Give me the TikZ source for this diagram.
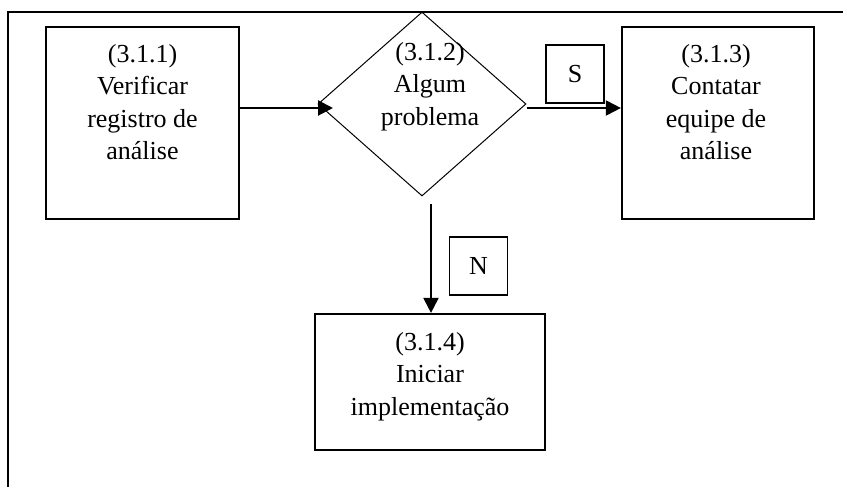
\documentclass[tikz,border=0pt]{standalone}
\usepackage{fontspec}
\setmainfont{Liberation Serif}
\usetikzlibrary{arrows.meta,shapes.geometric}

\tikzset{
  stepbox/.style={draw, line width=2.2pt, rectangle, inner sep=0pt},
  tagbox/.style={draw, line width=1.9pt, rectangle, inner sep=0pt,
                 minimum width=58pt, minimum height=58pt},
  decision/.style={draw, line width=1pt, diamond, inner sep=0pt,
                   minimum width=208pt, minimum height=184pt},
  label/.style={align=center, inner sep=0pt, anchor=north},
  flow/.style={line width=2.1pt, -{Triangle[length=15pt,width=15pt]}},
  every node/.style={font=\fontsize{26}{32.5}\selectfont}
}

\begin{document}
\begin{tikzpicture}[x=1pt, y=-1pt]
  \useasboundingbox (0,0) rectangle (843,487);

  % page frame (top and left rules)
  \draw[line width=2.4pt] (843,12) -- (8,12) -- (8,487);

  % process steps
  \node[stepbox, minimum width=193pt, minimum height=192pt] (b1) at (142.5,123) {};
  \node[label] (t1) at (142.5,44) {(3.1.1)\\Verificar\\registro de\\análise};

  \node[decision] (dia) at (422,104) {};
  \node[label] (t2) at (430,42) {(3.1.2)\\Algum\\problema};

  \node[stepbox, minimum width=192pt, minimum height=192pt] (b3) at (718,123) {};
  \node[label] (t3) at (716,44) {(3.1.3)\\Contatar\\equipe de\\análise};

  \node[stepbox, minimum width=230pt, minimum height=136pt] (b4) at (430,382) {};
  \node[label] (t4) at (430,332) {(3.1.4)\\Iniciar\\implementação};

  % answer tags
  \node[tagbox] (s) at (575,74) {S};
  \node[tagbox] (n) at (478.5,266) {N};

  % connectors
  \coordinate (ay) at (0,108);
  \coordinate (ain) at (333,108);
  \draw[flow] (b1.east |- ay) -- (ain);
  \draw[flow] (dia.east |- ay) -- (b3.west |- ay);
  \draw[flow] ([xshift=1pt]b4.north |- dia.south) ++(0,7) -- ([xshift=1pt]b4.north);
\end{tikzpicture}
\end{document}
